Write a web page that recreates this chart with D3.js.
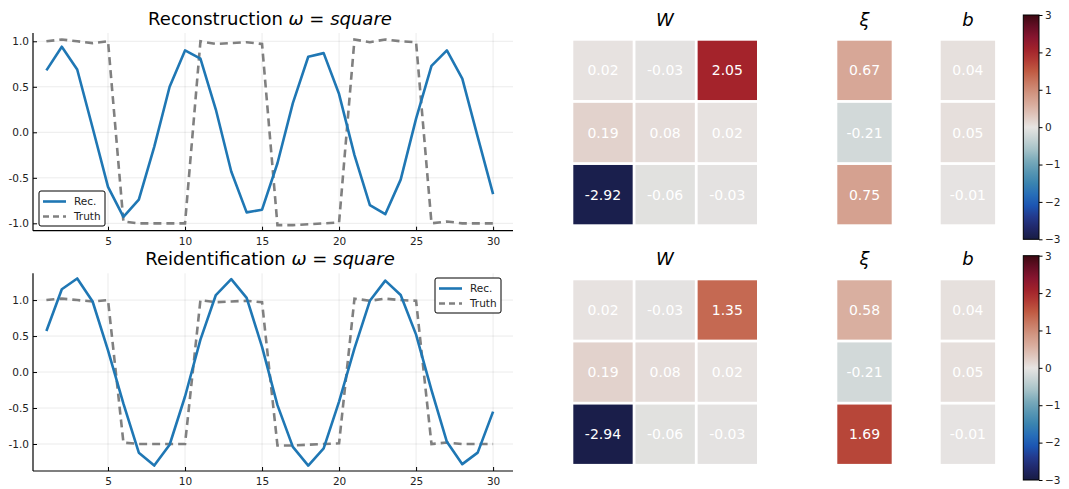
<!DOCTYPE html>
<html>
<head>
<meta charset="utf-8">
<script src="https://cdn.jsdelivr.net/npm/d3@7"></script>
<style>
  body { margin: 0; background: #fff; }
  text { font-family: "DejaVu Sans", sans-serif; }
</style>
</head>
<body>
<div id="chart"></div>
<script>
// time steps 1..30
var steps = d3.range(1, 31);

var truth = [1.0, 1.02, 1.0, 0.98, 1.0, -0.98, -1.0, -1.0, -1.0, -1.0,
	1.0, 0.97, 0.98, 0.99, 0.97, -1.02, -1.02, -1.01, -1.0, -0.99,
	1.02, 0.99, 1.02, 1.0, 0.99, -1.0, -0.98, -1.0, -1.0, -1.0];

var recTop = [0.68, 0.94, 0.69, 0.05, -0.6, -0.93, -0.74, -0.16, 0.5, 0.9,
	0.81, 0.25, -0.43, -0.88, -0.85, -0.34, 0.32, 0.83, 0.87, 0.42,
	-0.25, -0.8, -0.9, -0.52, 0.15, 0.73, 0.9, 0.59, -0.05, -0.68];

var recBottom = [0.57, 1.15, 1.3, 0.98, 0.3, -0.44, -1.12, -1.3, -1.01, -0.34,
	0.45, 1.07, 1.29, 1.03, 0.35, -0.46, -1.04, -1.3, -1.06, -0.41,
	0.33, 0.99, 1.27, 1.07, 0.52, -0.25, -0.97, -1.28, -1.12, -0.55];

var xTicks = [5, 10, 15, 20, 25, 30];
var yTicksTop = [-1.0, -0.5, 0.0, 0.5, 1.0];
var yTicksBottom = [-1.0, -0.5, 0.0, 0.5, 1.0];

// heatmap values
var wTop = [[0.02, -0.03, 2.05], [0.19, 0.08, 0.02], [-2.92, -0.06, -0.03]];
var xiTop = [0.67, -0.21, 0.75];
var bTop = [0.04, 0.05, -0.01];
var wBottom = [[0.02, -0.03, 1.35], [0.19, 0.08, 0.02], [-2.94, -0.06, -0.03]];
var xiBottom = [0.58, -0.21, 1.69];
var bBottom = [0.04, 0.05, -0.01];
var cbarTicks = [-3, -2, -1, 0, 1, 2, 3];

var svg = d3.select("#chart").append("svg")
	.attr("width", 1069)
	.attr("height", 489);

// balance-like diverging map
var color = d3.scaleLinear()
	.domain([-3, -2.5, -2, -1.5, -1, -0.5, 0, 0.5, 1, 1.5, 2, 2.5, 3])
	.range(["#181c43", "#252f80", "#1a5fbe", "#3a84b0", "#6aa2b5", "#b4cacd", "#e7e4e2",
		"#dbb5a8", "#cf8d77", "#c05a42", "#a8252a", "#7f1130", "#3c0912"])
	.clamp(true);

var fmt1 = d => d3.format(".1f")(d).replace("\u2212", "-");
var fmt2 = d => d3.format(".2f")(d).replace("\u2212", "-");

function linePanel(cfg) {
	var x = d3.scaleLinear().domain([0.13, 30.87]).range([33, 506.5]);
	var y = d3.scaleLinear().domain(cfg.ydom).range([cfg.bottom, cfg.top]);
	var g = svg.append("g");

	// grid
	g.append("g").selectAll("line").data(xTicks).join("line")
		.attr("x1", d => x(d)).attr("x2", d => x(d))
		.attr("y1", cfg.top).attr("y2", cfg.bottom)
		.attr("stroke", "#000").attr("stroke-opacity", 0.1).attr("stroke-width", 0.8);
	g.append("g").selectAll("line").data(cfg.yticks).join("line")
		.attr("x1", 33).attr("x2", 513)
		.attr("y1", d => y(d)).attr("y2", d => y(d))
		.attr("stroke", "#000").attr("stroke-opacity", 0.1).attr("stroke-width", 0.8);

	// axes (inward ticks)
	var xa = g.append("g")
		.attr("transform", "translate(0," + cfg.bottom + ")")
		.call(d3.axisTop(x).tickValues(xTicks).tickSize(4).tickFormat(d3.format("d")));
	xa.select(".domain").attr("d", "M33,0H513").attr("stroke-width", 1.2);
	xa.selectAll("text").attr("y", 14).attr("dy", 0).style("font-size", "10.5px")
		.attr("fill", "#222");

	var ya = g.append("g")
		.attr("transform", "translate(33,0)")
		.call(d3.axisRight(y).tickValues(cfg.yticks).tickSize(4).tickFormat(fmt1));
	ya.select(".domain").attr("d", "M0," + cfg.top + "V" + cfg.bottom).attr("stroke-width", 1.2);
	ya.selectAll("text").attr("x", -4).attr("text-anchor", "end").style("font-size", "10.5px")
		.attr("fill", "#222");

	var line = d3.line().x((d, i) => x(steps[i])).y(d => y(d));

	g.append("path").datum(truth)
		.attr("d", line).attr("fill", "none")
		.attr("stroke", "#808080").attr("stroke-width", 2.6)
		.attr("stroke-dasharray", "8,5");
	g.append("path").datum(cfg.rec)
		.attr("d", line).attr("fill", "none")
		.attr("stroke", "#1f77b4").attr("stroke-width", 2.6)
		.attr("stroke-linejoin", "round");

	// title
	var t = g.append("text")
		.attr("x", 270).attr("y", cfg.top - 8)
		.attr("text-anchor", "middle").style("font-size", "18px");
	t.append("tspan").text(cfg.title + " ");
	t.append("tspan").style("font-style", "italic").text("ω");
	t.append("tspan").text(" = ");
	t.append("tspan").style("font-style", "italic").text("square");

	// legend
	var lg = g.append("g").attr("transform", "translate(" + cfg.leg[0] + "," + cfg.leg[1] + ")");
	lg.append("rect").attr("width", 66).attr("height", 35).attr("rx", 2)
		.attr("fill", "#fff").attr("stroke", "#000").attr("stroke-width", 1);
	var items = [["Rec.", "#1f77b4", null], ["Truth", "#808080", "6,4"]];
	items.forEach(function (it, i) {
		var yy = 10.5 + i * 15;
		lg.append("line").attr("x1", 4).attr("x2", 27).attr("y1", yy).attr("y2", yy)
			.attr("stroke", it[1]).attr("stroke-width", 2.6)
			.attr("stroke-dasharray", it[2]);
		lg.append("text").attr("x", 35).attr("y", yy + 3.8)
			.style("font-size", "10.5px").attr("fill", "#222").text(it[0]);
	});
}

linePanel({ top: 33, bottom: 230.7, ydom: [-1.081, 1.091], yticks: yTicksTop,
	rec: recTop, title: "Reconstruction", leg: [39, 191] });
linePanel({ top: 273.3, bottom: 471, ydom: [-1.375, 1.372], yticks: yTicksBottom,
	rec: recBottom, title: "Reidentification", leg: [435, 278] });

function heatPanel(cfg) {
	var g = svg.append("g");
	var rows = d3.scaleBand().domain([0, 1, 2]).range([cfg.top, cfg.top + 183.6]).paddingInner(0.045);
	var wx = d3.scaleBand().domain([0, 1, 2]).range([573.3, 757]).paddingInner(0.045);
	var cell = function (sel, xpos, w) {
		sel.append("rect")
			.attr("x", xpos).attr("y", d => rows(d.r))
			.attr("width", w).attr("height", rows.bandwidth())
			.attr("fill", d => color(d.v));
		sel.append("text")
			.attr("x", xpos + w / 2).attr("y", d => rows(d.r) + rows.bandwidth() / 2 + 5)
			.attr("text-anchor", "middle").attr("fill", "#fff")
			.style("font-size", "14px")
			.text(d => fmt2(d.v));
	};

	var wcells = [];
	cfg.w.forEach((row, r) => row.forEach((v, c) => wcells.push({ r: r, c: c, v: v })));
	g.selectAll(".w").data(wcells).join("g").attr("class", "w")
		.each(function (d) { cell(d3.select(this), wx(d.c), wx.bandwidth()); });

	g.selectAll(".xi").data(cfg.xi.map((v, r) => ({ r: r, v: v }))).join("g").attr("class", "xi")
		.each(function () { cell(d3.select(this), 837.3, 54.4); });
	g.selectAll(".bb").data(cfg.b.map((v, r) => ({ r: r, v: v }))).join("g").attr("class", "bb")
		.each(function () { cell(d3.select(this), 940.7, 54.4); });

	[["W", 665], ["ξ", 864.5], ["b", 968]].forEach(function (t) {
		g.append("text").attr("x", t[1]).attr("y", cfg.top - 15)
			.attr("text-anchor", "middle").style("font-size", "18px").style("font-style", "italic")
			.text(t[0]);
	});

	// colorbar
	var cy = d3.scaleLinear().domain([-3, 3]).range([cfg.cb[1], cfg.cb[0]]);
	var gid = "grad" + cfg.id;
	var grad = svg.append("defs").append("linearGradient").attr("id", gid)
		.attr("x1", 0).attr("y1", 1).attr("x2", 0).attr("y2", 0);
	d3.range(0, 1.0001, 0.05).forEach(function (f) {
		grad.append("stop").attr("offset", f).attr("stop-color", color(-3 + 6 * f));
	});
	g.append("rect").attr("x", 1023.3).attr("y", cfg.cb[0])
		.attr("width", 15.7).attr("height", cfg.cb[1] - cfg.cb[0])
		.attr("fill", "url(#" + gid + ")").attr("stroke", "#000").attr("stroke-width", 1);
	var ca = g.append("g").attr("transform", "translate(1039,0)")
		.call(d3.axisRight(cy).tickValues(cbarTicks).tickSize(3.5)
			.tickFormat(d => d < 0 ? "\u2212" + Math.abs(d) : d));
	ca.select(".domain").remove();
	ca.selectAll("text").style("font-size", "10.5px").attr("fill", "#222").attr("x", 6);
}

heatPanel({ id: 1, top: 40.7, w: wTop, xi: xiTop, b: bTop, cb: [15, 239.3] });
heatPanel({ id: 2, top: 280.3, w: wBottom, xi: xiBottom, b: bBottom, cb: [255.7, 480] });
</script>
</body>
</html>
